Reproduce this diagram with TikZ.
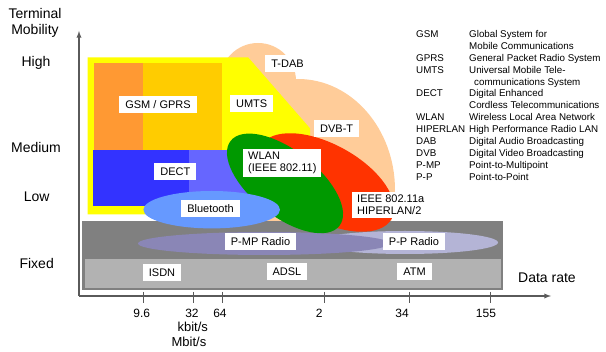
\documentclass[tikz,border=0pt]{standalone}
\usepackage{fontspec}
\setmainfont{Liberation Sans}
\usepackage{tikz}

\definecolor{peach}{HTML}{FFCC99}
\definecolor{sunyellow}{HTML}{FFFF00}
\definecolor{gsmorange}{HTML}{FF9933}
\definecolor{gprsgold}{HTML}{FFCC00}
\definecolor{dectblue}{HTML}{3333FF}
\definecolor{dectlight}{HTML}{6666FF}
\definecolor{btblue}{HTML}{6699FF}
\definecolor{wlangreen}{HTML}{009900}
\definecolor{hiperred}{HTML}{FF3300}
\definecolor{fixeddark}{HTML}{808080}
\definecolor{fixedlight}{HTML}{B2B2B2}
\definecolor{pmpviolet}{HTML}{8A86B6}
\definecolor{ppviolet}{HTML}{B4B4D6}
\definecolor{axisgray}{HTML}{5A5A5A}

\begin{document}
\begin{tikzpicture}[
    x=1pt, y=-1pt,
    tag/.style={fill=white, inner xsep=6pt, inner ysep=3pt, minimum height=17pt, font=\fontsize{11}{12}\selectfont},
    axislabel/.style={font=\fontsize{14}{15.7}\selectfont, align=center},
    ticklabel/.style={font=\fontsize{12}{14}\selectfont},
    unitlabel/.style={font=\fontsize{13}{15}\selectfont},
    legend/.style={font=\fontsize{9.8}{11.9}\selectfont, inner sep=0pt, anchor=base west},
    axis/.style={draw=axisgray, line width=1.3pt},
    tick/.style={draw=axisgray, line width=1pt}
]
\useasboundingbox (0,0) rectangle (606,352);

\begin{scope}
\clip (0,0) rectangle (606,221);
\fill[peach] (258,81) circle [radius=38];
\fill[peach] (298,190) ellipse [x radius=97, y radius=111];
\end{scope}
\fill[sunyellow] (87.7,57.5) -- (248.3,57.5) -- (310,128.3) -- (310,214.5) -- (87.7,214.5) -- cycle;
\fill[gsmorange] (94,62.7) rectangle (143.3,150);
\fill[gprsgold] (143.3,62.7) rectangle (221.7,150);
\fill[dectblue] (93.3,150) rectangle (189.3,206);
\fill[dectlight] (189.3,150) rectangle (258,206);

\fill[fixeddark] (82,221) rectangle (502.7,290);
\fill[fixedlight] (85,259) rectangle (501,288);
\fill[ppviolet] (405,242.5) ellipse [x radius=93, y radius=11.5];
\fill[pmpviolet] (264,243.5) ellipse [x radius=126, y radius=11.5];

\fill[hiperred, rotate around={-29:(326,182.5)}] (326,182.5) ellipse [x radius=75, y radius=38];
\fill[wlangreen, rotate around={-38:(285,183.4)}] (285,183.4) ellipse [x radius=69, y radius=33];
\fill[btblue] (211.7,209.7) ellipse [x radius=68.3, y radius=18.7];

\node[tag] (gsm) at (158,105) {GSM / GPRS};
\node[tag] (umts) at (251.7,104) {UMTS};
\node[tag] (tdab) at (287.5,63.3) {T-DAB};
\node[tag] (dvbt) at (336.7,128.7) {DVB-T};
\node[tag] (dect) at (175.3,172) {DECT};
\node[tag, align=left, anchor=west, inner xsep=5pt] (wlan) at (243,163) {WLAN\\(IEEE 802.11)};
\node[tag] (bluetooth) at (210.5,208.5) {Bluetooth};
\node[tag, align=left, anchor=west, inner xsep=5pt] (hiperlan) at (352,205) {IEEE 802.11a\\HIPERLAN/2};
\node[tag] (pmp) at (260.5,242) {P-MP Radio};
\node[tag] (pp) at (414,242) {P-P Radio};
\node[tag] (isdn) at (162,272.5) {ISDN};
\node[tag] (adsl) at (287,272) {ADSL};
\node[tag] (atm) at (414.5,272) {ATM};

\coordinate (origin) at (79,296);
\coordinate (ytip) at (79,31);
\coordinate (xtip) at (551,296);
\draw[axis, -latex] (origin) -- (ytip);
\draw[axis, -latex] (origin) -- (xtip);

\draw[tick] (143.3,292) -- (143.3,303);
\draw[tick] (193.3,292) -- (193.3,303);
\draw[tick] (222.3,292) -- (222.3,303);
\draw[tick] (324.3,292) -- (324.3,303);
\draw[tick] (409,292) -- (409,303);
\draw[tick] (490.7,292) -- (490.7,303);

\node[ticklabel] (t96) at (141.7,313) {9.6};
\node[ticklabel] (t32) at (192,313) {32};
\node[ticklabel] (t64) at (220,313) {64};
\node[ticklabel] (t2) at (319.3,313) {2};
\node[ticklabel] (t34) at (402,313) {34};
\node[ticklabel] (t155) at (486,313) {155};
\node[unitlabel] (kbit) at (192.7,327) {kbit/s};
\node[unitlabel] (mbit) at (189,342) {Mbit/s};

\node[axislabel] (mobility) at (35,23) {Terminal\\Mobility};
\node[axislabel] (high) at (36,63) {High};
\node[axislabel] (medium) at (36,147.5) {Medium};
\node[axislabel] (low) at (36.7,197) {Low};
\node[axislabel] (fixed) at (36.7,263.3) {Fixed};
\node[axislabel] (rate) at (547,277.3) {Data rate};

\node[legend] (legend) at (416,37.5) {\begin{tabular}[t]{@{}p{53pt}@{}l@{}}
GSM & Global System for\\
 & Mobile Communications\\
GPRS & General Packet Radio System\\
UMTS & Universal Mobile Tele-\\
 & \hspace{5pt}communications System\\
DECT & Digital Enhanced\\
 & Cordless Telecommunications\\
WLAN & Wireless Local Area Network\\
HIPERLAN & High Performance Radio LAN\\
DAB & Digital Audio Broadcasting\\
DVB & Digital Video Broadcasting\\
P-MP & Point-to-Multipoint\\
P-P & Point-to-Point
\end{tabular}};
\end{tikzpicture}
\end{document}
